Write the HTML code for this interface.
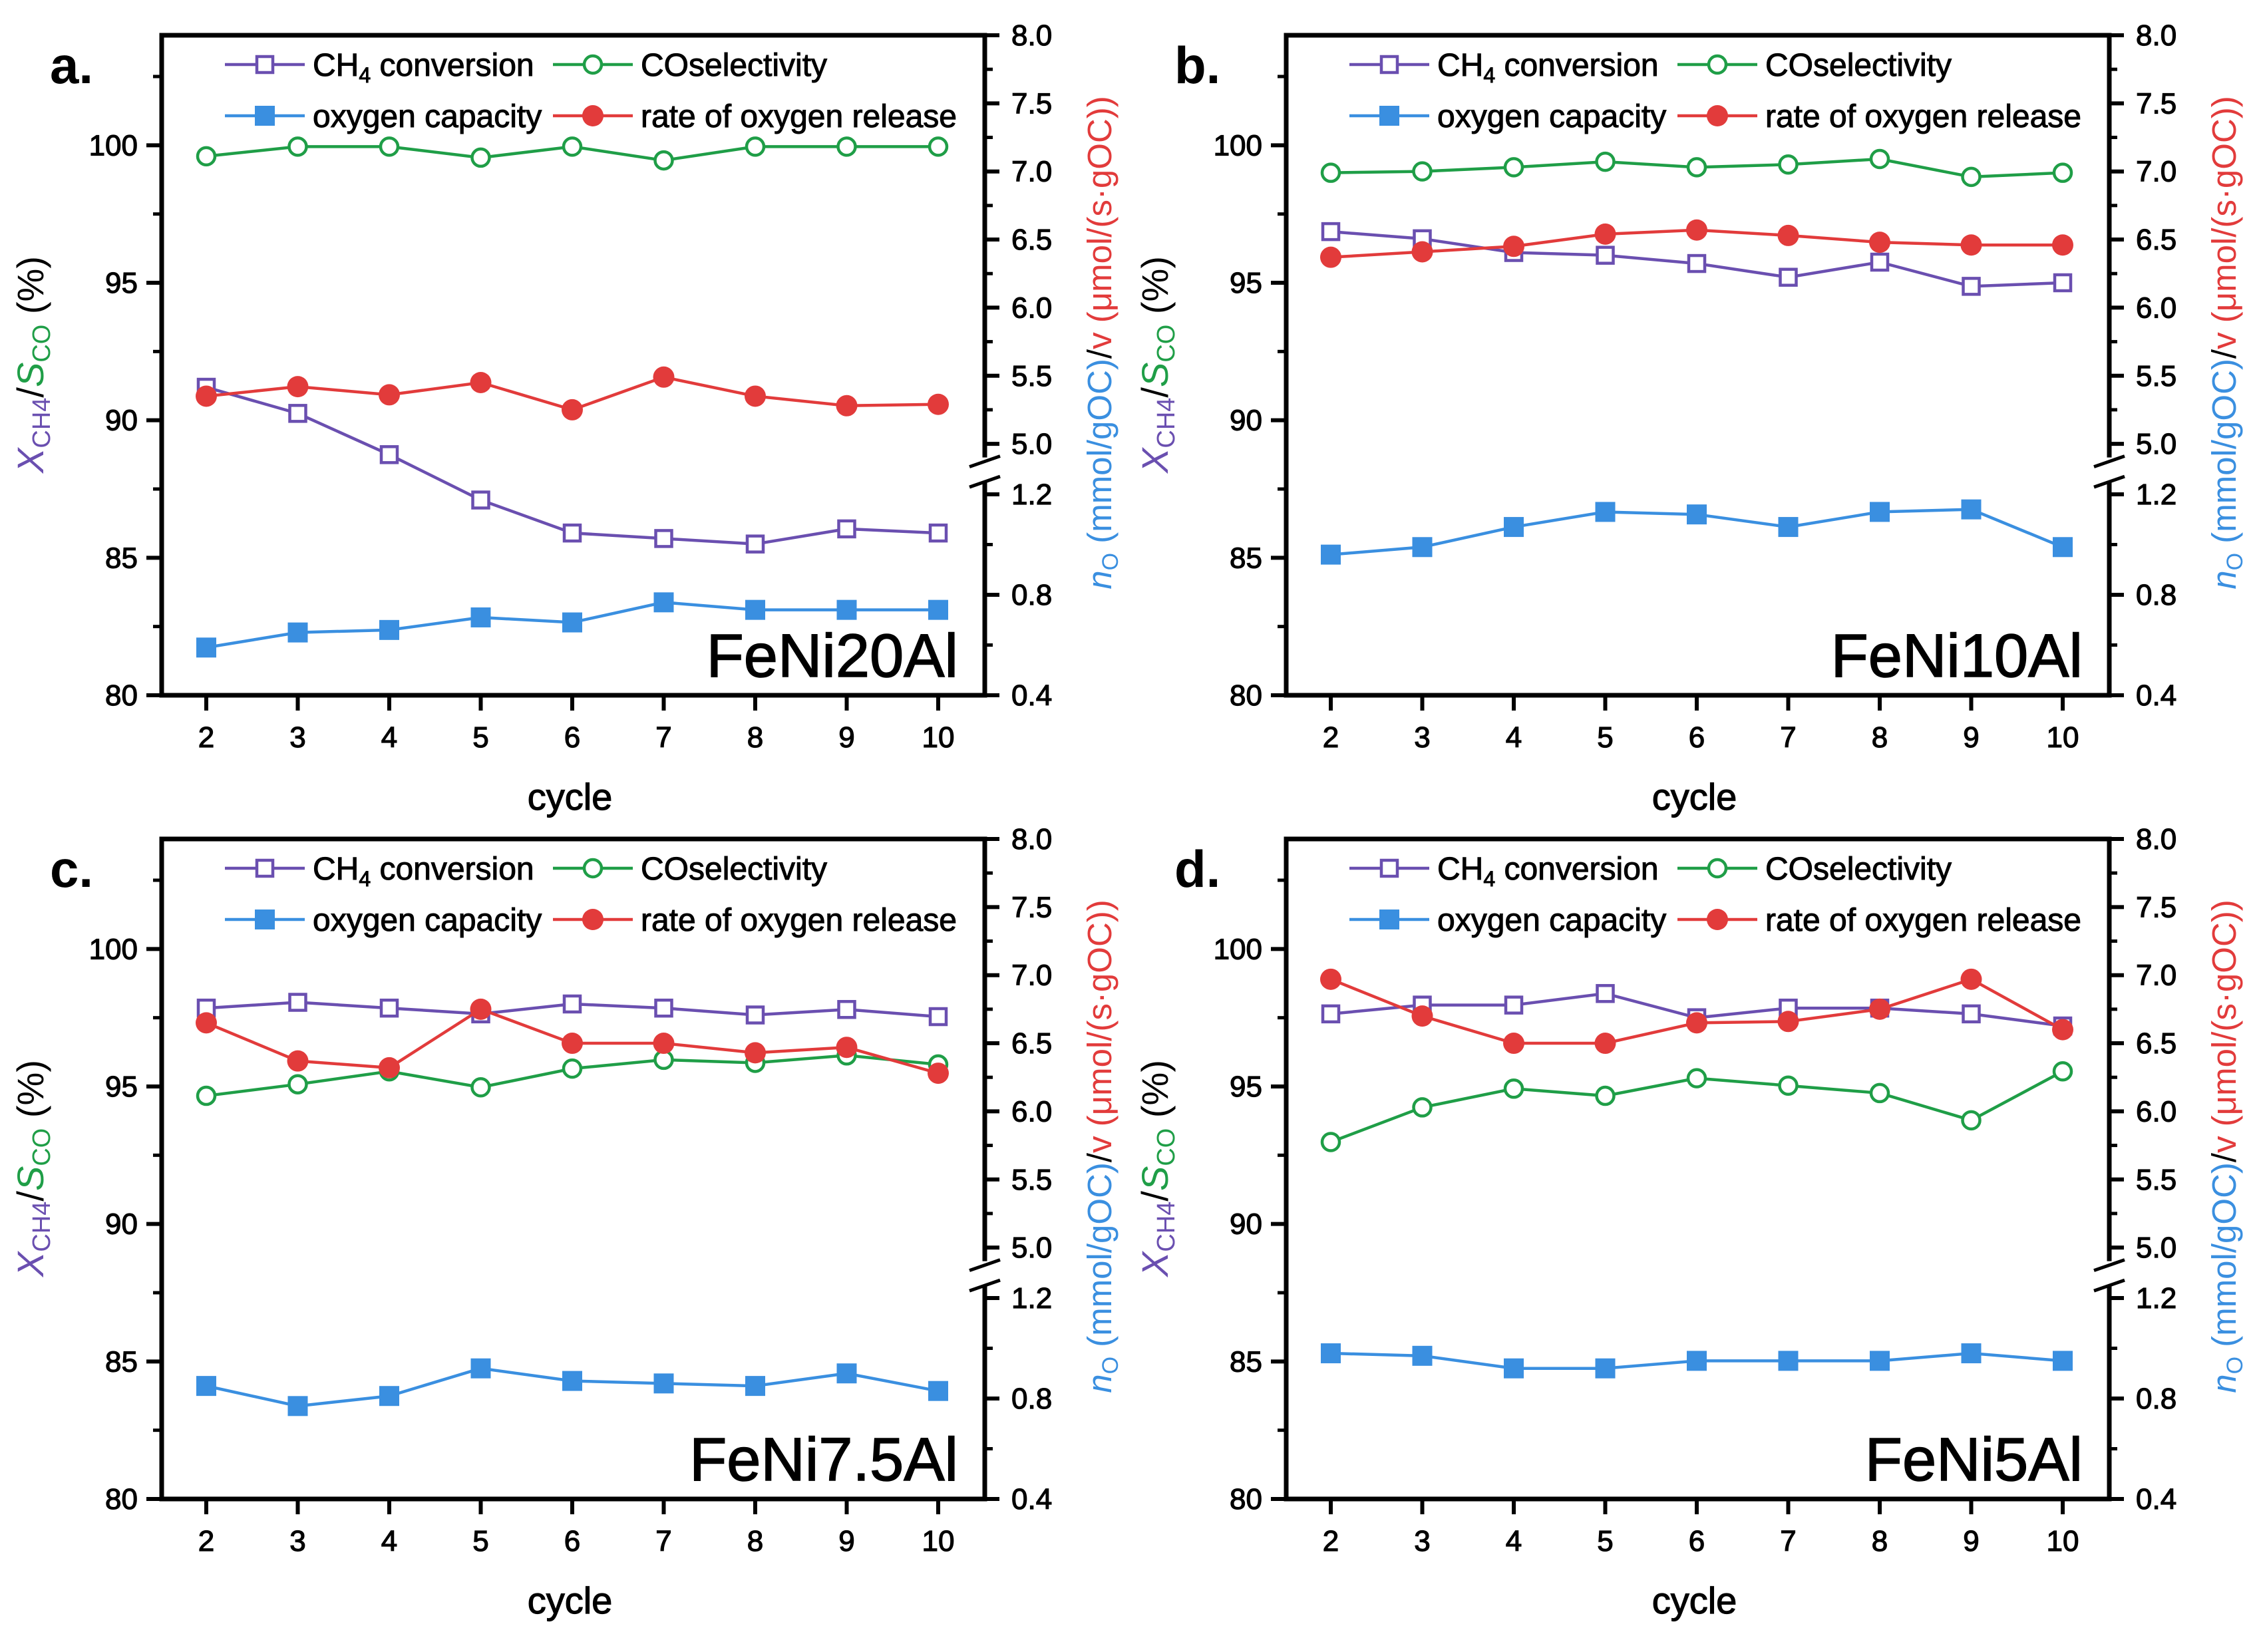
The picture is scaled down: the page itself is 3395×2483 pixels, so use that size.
<!DOCTYPE html>
<html><head><meta charset="utf-8">
<style>
html,body{margin:0;padding:0;background:#fff;}
svg{display:block;}
text{font-family:"Liberation Sans","DejaVu Sans",sans-serif;}
</style></head>
<body>
<svg id="fig" width="3395" height="2483" viewBox="0 0 3395 2483" xmlns="http://www.w3.org/2000/svg"></svg>
<script>
const cycles = [2,3,4,5,6,7,8,9,10];
const leftTicks = [80,85,90,95,100];
const rightUpperTicks = ["5.0","5.5","6.0","6.5","7.0","7.5","8.0"];
const rightLowerTicks = ["0.4","0.8","1.2"];
const panelLetters = ["a.","b.","c.","d."];
const sampleNames = ["FeNi20Al","FeNi10Al","FeNi7.5Al","FeNi5Al"];
const ch4A = [91.2,90.25,88.75,87.1,85.9,85.7,85.5,86.05,85.9];
const coA = [99.6,99.95,99.95,99.55,99.95,99.45,99.95,99.95,99.95];
const capA = [0.59,0.65,0.66,0.71,0.69,0.77,0.74,0.74,0.74];
const rateA = [5.35,5.42,5.36,5.45,5.25,5.49,5.35,5.28,5.29];
const ch4B = [96.86,96.6,96.1,96.0,95.7,95.2,95.75,94.87,95.0];
const coB = [99.0,99.05,99.2,99.4,99.2,99.3,99.5,98.85,99.0];
const capB = [0.96,0.99,1.07,1.13,1.12,1.07,1.13,1.14,0.99];
const rateB = [6.37,6.41,6.45,6.54,6.57,6.53,6.48,6.46,6.46];
const ch4C = [97.85,98.06,97.85,97.64,98.0,97.85,97.6,97.8,97.54];
const coC = [94.66,95.08,95.55,94.97,95.65,95.97,95.86,96.13,95.8];
const capC = [0.85,0.77,0.81,0.92,0.87,0.86,0.85,0.9,0.83];
const rateC = [6.65,6.37,6.32,6.75,6.5,6.5,6.43,6.47,6.28];
const ch4D = [97.64,97.96,97.96,98.38,97.5,97.85,97.85,97.64,97.2];
const coD = [92.98,94.24,94.92,94.66,95.3,95.03,94.76,93.77,95.55];
const capD = [0.98,0.97,0.92,0.92,0.95,0.95,0.95,0.98,0.95];
const rateD = [6.97,6.7,6.5,6.5,6.65,6.66,6.75,6.97,6.6];

const NS="http://www.w3.org/2000/svg";
const svg=document.getElementById('fig');
const C={ch4:"#6a4fb0",co:"#1f9e47",cap:"#3a8fe0",rate:"#e23b3b"};
function mk(tag,attrs,parent){const e=document.createElementNS(NS,tag);for(const k in attrs)e.setAttribute(k,attrs[k]);(parent||svg).appendChild(e);return e;}

const W=1237,H=992;
const origins=[[243,53],[1933,53],[243,1261],[1933,1261]];
const series=[[ch4A,coA,capA,rateA],[ch4B,coB,capB,rateB],[ch4C,coC,capC,rateC],[ch4D,coD,capD,rateD]];
const TS={stroke:'currentColor'};

origins.forEach(([ox,oy],pi)=>{
  const g=mk('g',{});
  
  
  const L=ox,R=ox+W,T=oy,B=oy+H;
  const xS=c=>ox+67+(c-2)*137.5;
  const yL=v=>B-(v-80)*(H/24);
  const yU=v=>T+(8-v)*204.7;
  const yLo=v=>B-(v-0.4)*377.5;
  const fr=mk('rect',{x:L,y:T,width:W,height:H,fill:'none',stroke:'#000','stroke-width':7},g);
  
  
  cycles.forEach(c=>{
    mk('line',{x1:xS(c),x2:xS(c),y1:B,y2:B+23,stroke:'#000','stroke-width':6},g);
    const t=mk('text',{x:xS(c),y:B+78,'font-size':44,'text-anchor':'middle',stroke:'#000','stroke-width':1.2},g);
    t.textContent=c;
    
    
  });
  leftTicks.forEach(v=>{
    mk('line',{x1:L-23,x2:L,y1:yL(v),y2:yL(v),stroke:'#000','stroke-width':6},g);
    const t=mk('text',{x:L-36,y:yL(v)+15,'font-size':44,'text-anchor':'end',stroke:'#000','stroke-width':1.2},g);
    t.textContent=v;
    
    
  });
  [82.5,87.5,92.5,97.5,102.5].forEach(v=>mk('line',{x1:L-13,x2:L,y1:yL(v),y2:yL(v),stroke:'#000','stroke-width':5},g));
  mk('rect',{x:R-6,y:yU(4.9),width:12,height:yLo(1.25)-yU(4.9),fill:'#fff'},g);
  mk('line',{x1:R-23,y1:yU(4.9)+14,x2:R+23,y2:yU(4.9)-2,stroke:'#000','stroke-width':5},g);
  mk('line',{x1:R-23,y1:yLo(1.25)+8,x2:R+23,y2:yLo(1.25)-8,stroke:'#000','stroke-width':5},g);
  rightUpperTicks.forEach(s=>{
    const v=parseFloat(s);
    mk('line',{x1:R,x2:R+22,y1:yU(v),y2:yU(v),stroke:'#000','stroke-width':6},g);
    const t=mk('text',{x:R+40,y:yU(v)+15,'font-size':44,stroke:'#000','stroke-width':1.2},g);
    t.textContent=s;
    
    
  });
  [5.25,5.75,6.25,6.75,7.25,7.75].forEach(v=>mk('line',{x1:R,x2:R+12,y1:yU(v),y2:yU(v),stroke:'#000','stroke-width':5},g));
  rightLowerTicks.forEach(s=>{
    const v=parseFloat(s);
    mk('line',{x1:R,x2:R+22,y1:yLo(v),y2:yLo(v),stroke:'#000','stroke-width':6},g);
    const t=mk('text',{x:R+40,y:yLo(v)+15,'font-size':44,stroke:'#000','stroke-width':1.2},g);
    t.textContent=s;
    
    
  });
  [0.6,1.0].forEach(v=>mk('line',{x1:R,x2:R+12,y1:yLo(v),y2:yLo(v),stroke:'#000','stroke-width':5},g));
  const xt=mk('text',{x:ox+W/2-5,y:B+172,'font-size':56,'text-anchor':'middle',stroke:'#000','stroke-width':1.2},g);
  xt.textContent='cycle';
  
  
  const lt=mk('text',{transform:`translate(${L-178},${T+495}) rotate(-90)`,'font-size':56,'text-anchor':'middle'},g);
  
  
  lt.innerHTML=`<tspan fill="${C.ch4}" font-style="italic">X</tspan><tspan fill="${C.ch4}" font-size="38" dy="10">CH4</tspan><tspan dy="-10">/</tspan><tspan fill="${C.co}" font-style="italic">S</tspan><tspan fill="${C.co}" font-size="38" dy="10">CO</tspan><tspan dy="-10"> (%)</tspan>`;
  const rt=mk('text',{transform:`translate(${R+190},${T+462}) rotate(-90)`,'font-size':51,'text-anchor':'middle'},g);
  
  
  rt.innerHTML=`<tspan fill="${C.cap}"><tspan font-style="italic">n</tspan><tspan font-size="34" dy="10">O</tspan><tspan dy="-10"> (mmol/gOC)</tspan></tspan><tspan>/</tspan><tspan fill="${C.rate}">v (μmol/(s·gOC))</tspan>`;
  const pl=mk('text',{x:ox-168,y:oy+72,'font-size':78,'font-weight':'bold'},g);
  pl.textContent=panelLetters[pi];
  
  
  const sn=mk('text',{x:R-40,y:B-28,'font-size':92,'text-anchor':'end',stroke:'#000','stroke-width':1.5},g);
  sn.textContent=sampleNames[pi];
  
  
  function marker(type,col,x,y,parent){
    if(type==='osq') return mk('rect',{x:x-12,y:y-12,width:24,height:24,fill:'#fff',stroke:col,'stroke-width':4.5},parent);
    if(type==='fsq') return mk('rect',{x:x-14,y:y-14,width:28,height:28,fill:col,stroke:col,'stroke-width':2},parent);
    if(type==='oc') return mk('circle',{cx:x,cy:y,r:13,fill:'#fff',stroke:col,'stroke-width':4.5},parent);
    return mk('circle',{cx:x,cy:y,r:16,fill:col},parent);
  }
  const defs=[
    {k:'ch4',t:'osq',y:yL,name:'ch4-conversion'},
    {k:'co',t:'oc',y:yL,name:'co-selectivity'},
    {k:'cap',t:'fsq',y:yLo,name:'oxygen-capacity'},
    {k:'rate',t:'fc',y:yU,name:'oxygen-release-rate'}];
  const order=[2,0,1,3];
  order.forEach(si=>{
    const d=defs[si],vals=series[pi][si],col=C[d.k];
    const sg=mk('g',{},g);
    
    
    const pts=cycles.map((c,i)=>xS(c)+','+d.y(vals[i])).join(' ');
    mk('polyline',{points:pts,fill:'none',stroke:col,'stroke-width':4.5},sg);
    cycles.forEach((c,i)=>{
      const m=marker(d.t,col,xS(c),d.y(vals[i]),sg);
      
      
    });
  });
  const lg=mk('g',{},g);
  
  
  const items=[
    {k:'ch4',t:'osq',x:95,y:44,html:'CH<tspan font-size="32" dy="10">4</tspan><tspan dy="-10"> conversion</tspan>'},
    {k:'co',t:'oc',x:588,y:44,html:'COselectivity'},
    {k:'cap',t:'fsq',x:95,y:121,html:'oxygen capacity'},
    {k:'rate',t:'fc',x:588,y:121,html:'rate of oxygen release'}];
  items.forEach(it=>{
    const ex=ox+it.x, ey=oy+it.y;
    const e=mk('g',{},lg);
    
    
    mk('line',{x1:ex,x2:ex+120,y1:ey,y2:ey,stroke:C[it.k],'stroke-width':4.5},e);
    marker(it.t,C[it.k],ex+60,ey,e);
    const t=mk('text',{x:ex+132,y:ey+17,'font-size':48,stroke:'#000','stroke-width':1},e);
    t.innerHTML=it.html;
  });
});
</script>
</body></html>
